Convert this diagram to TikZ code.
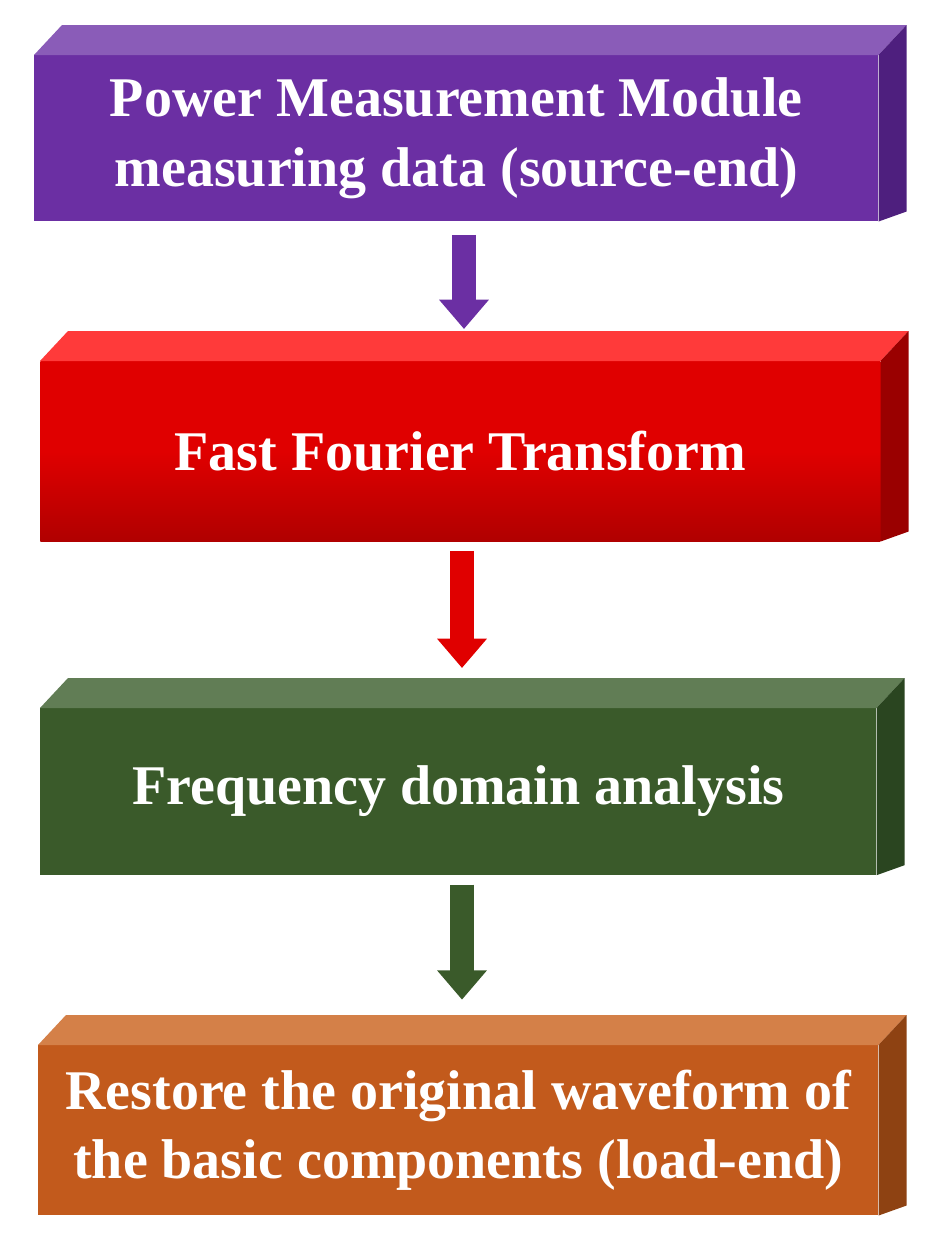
\documentclass[tikz,border=0pt]{standalone}
\usepackage{fontspec}
\setmainfont{Liberation Serif}
\usetikzlibrary{arrows.meta}
\definecolor{pF}{HTML}{6B2FA3}\definecolor{pT}{HTML}{8A5CB8}\definecolor{pS}{HTML}{4E1F7E}
\definecolor{rF}{HTML}{E00000}\definecolor{rB}{HTML}{B00000}\definecolor{rT}{HTML}{FF3A3A}\definecolor{rS}{HTML}{9A0000}
\definecolor{gF}{HTML}{3A5A2A}\definecolor{gT}{HTML}{617D55}\definecolor{gS}{HTML}{2A4520}
\definecolor{oF}{HTML}{C25A1C}\definecolor{oT}{HTML}{D48048}\definecolor{oS}{HTML}{8E4212}
\tikzset{
 box/.style={anchor=north west,inner sep=0pt,text=white,align=center,
   font=\fontsize{42}{52}\selectfont\bfseries},
 flow/.style={line width=18pt,-{Triangle[width=36pt,length=22pt]}}
}
\newcommand{\cube}[3]{%
 \fill[#2] (#1.north west) -- ++(28,-30) -- ([xshift=21pt,yshift=22.5pt]#1.north east) -- (#1.north east) -- cycle;
 \fill[#3] (#1.north east) -- ++(28,-30) -- ([xshift=21pt,yshift=7.5pt]#1.south east) -- (#1.south east) -- cycle;}
\begin{document}
\begin{tikzpicture}[x=0.75pt,y=-0.75pt]
\useasboundingbox (0,0) rectangle (941,1250);
\fill[white] (0,0) rectangle (941,1250);
\node[box,minimum width=633pt,minimum height=124.5pt,fill=pF] (b1) at (34,55) {Power Measurement Module\\measuring data (source-end)};
\node[box,minimum width=630pt,minimum height=135pt,top color=rF,bottom color=rB,middle color=rF] (b2) at (40,361) {Fast Fourier Transform};
\node[box,minimum width=627pt,minimum height=125pt,fill=gF] (b3) at (40,708) {Frequency domain analysis};
\node[box,minimum width=630pt,minimum height=127.5pt,fill=oF] (b4) at (38,1045) {Restore the original waveform of\\the basic components (load-end)};
\cube{b1}{pT}{pS}
\cube{b2}{rT}{rS}
\cube{b3}{gT}{gS}
\cube{b4}{oT}{oS}
\draw[flow,pF,shorten <=10pt,shorten >=24pt] (b1.south-|464,0) -- (b2.north-|464,0);
\draw[flow,rF,shorten <=7pt,shorten >=30pt] (b2.south-|462,0) -- (b3.north-|462,0);
\draw[flow,gF,shorten <=7pt,shorten >=34pt] (b3.south-|462,0) -- (b4.north-|462,0);
\end{tikzpicture}
\end{document}
